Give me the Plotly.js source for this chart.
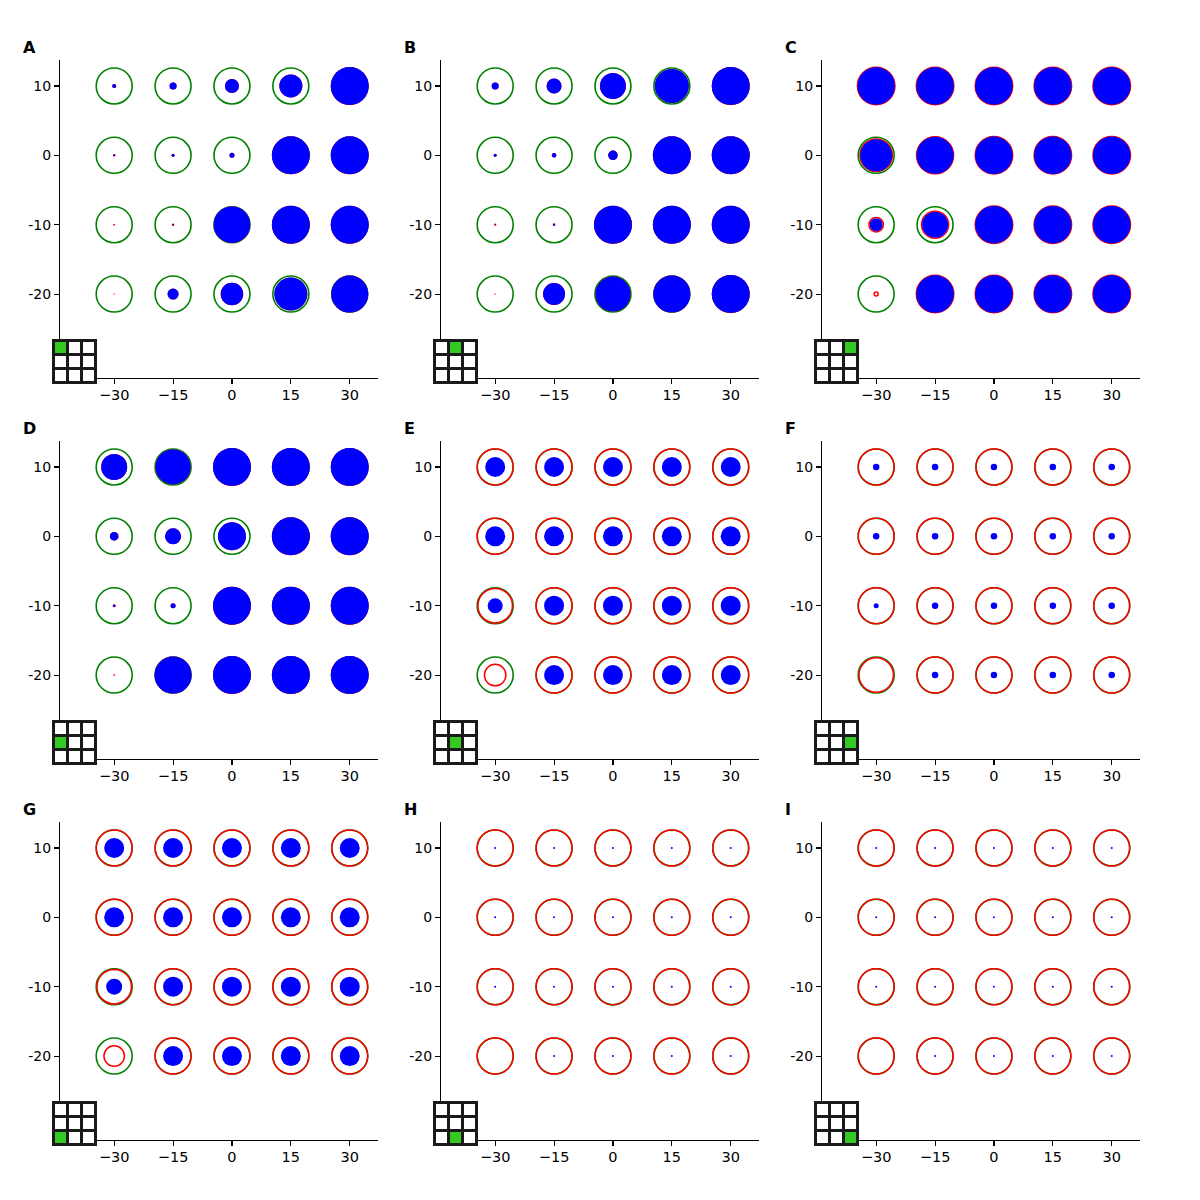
<!DOCTYPE html>
<html>
<head>
<meta charset="utf-8">
<script src="https://cdn.plot.ly/plotly-3.0.1.min.js"></script>
<style>
  html, body { margin: 0; padding: 0; background: #ffffff; }
  #chart { width: 1200px; height: 1200px; }
</style>
</head>
<body>
<div id="chart"></div>
<script>
// ---- Data ----
// Grid positions (5 columns x 4 rows), row order: y = 10, 0, -10, -20
const xPositions = [-30, -15, 0, 15, 30];
const yPositions = [10, 0, -10, -20];

const xTickVals = [-30, -15, 0, 15, 30];
const xTickText = ['\u221230', '\u221215', '0', '15', '30'];
const yTickVals = [10, 0, -10, -20];
const yTickText = ['10', '0', '-10', '-20'];

const panelLabels = ['A', 'B', 'C', 'D', 'E', 'F', 'G', 'H', 'I'];

// Blue filled disc diameters (px), per panel, rows y=10,0,-10,-20
const blueA = [4, 7, 14, 23, 38,   2, 3, 5, 38, 38,   0.8, 1.5, 36.5, 38, 38,   0, 11, 22.5, 33, 37];
const blueB = [7, 15, 26, 34, 38,  3, 4.5, 9.5, 38, 38,  1.2, 2, 38, 38, 38,   0, 22, 35, 37, 38];
const blueC = [37.5, 37.5, 37.5, 37.5, 37.5,  32, 37, 37.5, 37.5, 37.5,  13, 26, 37.5, 37.5, 37.5,  0, 37.5, 37.5, 37.5, 37.5];
const blueD = [26, 35, 38, 38, 38,  8.5, 16, 28, 38, 38,  2.5, 5, 38, 38, 38,  0, 37, 38, 38, 38];
const blueE = [20, 20, 20, 20, 20,  20, 20, 20, 20, 20,  15, 20, 20, 20, 20,  0, 20, 20, 20, 20];
const blueF = [6.5, 6.5, 6.5, 6.5, 6.5,  6.5, 6.5, 6.5, 6.5, 6.5,  5, 6.5, 6.5, 6.5, 6.5,  0, 6.5, 6.5, 6.5, 6.5];
const blueG = [20, 20, 20, 20, 20,  20, 20, 20, 20, 20,  16, 20, 20, 20, 20,  0, 20, 20, 20, 20];
const blueH = [2, 2, 2, 2, 2,  2, 2, 2, 2, 2,  2, 2, 2, 2, 2,  0, 2, 2, 2, 2];
const blueI = [2, 2, 2, 2, 2,  2, 2, 2, 2, 2,  2, 2, 2, 2, 2,  0, 2, 2, 2, 2];

// Red ring diameters (px)
const redA = [2.5, 5.5, 12.5, 21.5, 36.5,  1, 1.5, 3.5, 36.5, 36.5,  0.6, 1, 35, 36.5, 36.5,  0.3, 9.5, 21, 31.5, 35.5];
const redB = [5.5, 13.5, 24.5, 32.5, 36.5,  1.5, 3, 8, 36.5, 36.5,  0.8, 1.2, 36.5, 36.5, 36.5,  0.3, 20.5, 33.5, 35.5, 36.5];
const redC = [37.5, 37.5, 37.5, 37.5, 37.5,  32.5, 37, 37.5, 37.5, 37.5,  14.5, 27, 37.5, 37.5, 37.5,  4, 37.5, 37.5, 37.5, 37.5];
const redD = [24.5, 33.5, 36.5, 36.5, 36.5,  7, 14.5, 26.5, 36.5, 36.5,  1.5, 3.5, 36.5, 36.5, 36.5,  0.5, 35.5, 36.5, 36.5, 36.5];
const redE = [36, 36, 36, 36, 36,  36, 36, 36, 36, 36,  34.5, 36, 36, 36, 36,  21.5, 36, 36, 36, 36];
const redF = [36, 36, 36, 36, 36,  36, 36, 36, 36, 36,  36, 36, 36, 36, 36,  34.5, 36, 36, 36, 36];
const redG = [36, 36, 36, 36, 36,  36, 36, 36, 36, 36,  34.5, 36, 36, 36, 36,  20.5, 36, 36, 36, 36];
const redH = [36, 36, 36, 36, 36,  36, 36, 36, 36, 36,  36, 36, 36, 36, 36,  36, 36, 36, 36, 36];
const redI = [36, 36, 36, 36, 36,  36, 36, 36, 36, 36,  36, 36, 36, 36, 36,  36, 36, 36, 36, 36];

// Green reference ring diameter (px), same at every grid point
const greenRing = [36, 36, 36, 36, 36,  36, 36, 36, 36, 36,  36, 36, 36, 36, 36,  36, 36, 36, 36, 36];

const blueSets = [blueA, blueB, blueC, blueD, blueE, blueF, blueG, blueH, blueI];
const redSets = [redA, redB, redC, redD, redE, redF, redG, redH, redI];

// ---- Build ----
const W = 1200, H = 1200;
const colLeft = [60, 441, 822];
const rowTop = [60, 441, 822];
const axSize = 318;

const gx = [], gy = [];
yPositions.forEach(function (yv) { xPositions.forEach(function (xv) { gx.push(xv); gy.push(yv); }); });

const traces = [];
const layout = {
  width: W, height: H,
  margin: {l: 0, r: 0, t: 0, b: 0},
  paper_bgcolor: '#ffffff', plot_bgcolor: 'rgba(0,0,0,0)',
  showlegend: false,
  font: {family: 'DejaVu Sans', size: 14, color: '#000000'},
  shapes: [], annotations: []
};

const px = function (v) { return v / W; };
const py = function (v) { return 1 - v / H; };

for (let i = 0; i < 9; i++) {
  const r = Math.floor(i / 3), c = i % 3;
  const sfx = i === 0 ? '' : String(i + 1);
  const xa = 'x' + sfx, ya = 'y' + sfx;
  const L = colLeft[c], T = rowTop[r], B = T + axSize;

  layout['xaxis' + sfx] = {
    domain: [px(L), px(L + axSize)],
    range: [-43.8, 37.2],
    anchor: ya,
    tickvals: xTickVals, ticktext: xTickText,
    showline: true, linecolor: '#000000', linewidth: 1.1,
    ticks: 'outside', ticklen: 5, tickwidth: 1.1, tickcolor: '#000000',
    ticklabelstandoff: -2,
    showgrid: false, zeroline: false,
    tickfont: {family: 'DejaVu Sans', size: 14.5, color: '#000000'},
    fixedrange: true
  };
  layout['yaxis' + sfx] = {
    domain: [py(B), py(T)],
    range: [-32.1, 13.74],
    anchor: xa,
    tickvals: yTickVals, ticktext: yTickText,
    showline: true, linecolor: '#000000', linewidth: 1.1,
    ticks: 'outside', ticklen: 5, tickwidth: 1.1, tickcolor: '#000000',
    showgrid: false, zeroline: false,
    tickfont: {family: 'DejaVu Sans', size: 14, color: '#000000'},
    fixedrange: true
  };

  traces.push({
    type: 'scatter', mode: 'markers', x: gx, y: gy, xaxis: xa, yaxis: ya,
    marker: {symbol: 'circle-open', size: greenRing, color: '#008000', opacity: 1, line: {width: 1.6, color: '#008000'}},
    hoverinfo: 'skip', cliponaxis: false
  });
  traces.push({
    type: 'scatter', mode: 'markers', x: gx, y: gy, xaxis: xa, yaxis: ya,
    marker: {symbol: 'circle-open', size: redSets[i], color: '#ff0000', opacity: 1, line: {width: 1.5, color: '#ff0000'}},
    hoverinfo: 'skip', cliponaxis: false
  });
  traces.push({
    type: 'scatter', mode: 'markers', x: gx, y: gy, xaxis: xa, yaxis: ya,
    marker: {symbol: 'circle', size: blueSets[i], color: '#0000ff', opacity: 1, line: {width: 0}},
    hoverinfo: 'skip', cliponaxis: false
  });

  // panel label
  layout.annotations.push({
    xref: 'paper', yref: 'paper', x: px(L - 39), y: py(T - 13),
    xanchor: 'left', yanchor: 'middle', showarrow: false,
    text: '<b>' + panelLabels[i] + '</b>',
    font: {family: 'DejaVu Sans', size: 16, color: '#000000'}
  });

  // inset 3x3 position indicator
  const bx = L - 8, by = B - 39; // top-left of 45px box
  layout.shapes.push({type: 'rect', xref: 'paper', yref: 'paper', layer: 'above',
    x0: px(bx), x1: px(bx + 45), y0: py(by + 45), y1: py(by),
    fillcolor: '#ffffff', line: {width: 0}});
  layout.shapes.push({type: 'rect', xref: 'paper', yref: 'paper', layer: 'above',
    x0: px(bx + 3 + 14 * c), x1: px(bx + 14 + 14 * c),
    y0: py(by + 14 + 14 * r), y1: py(by + 3 + 14 * r),
    fillcolor: '#33c822', line: {width: 0}});
  for (let k = 0; k < 4; k++) {
    const off = 1.5 + 14 * k;
    layout.shapes.push({type: 'line', xref: 'paper', yref: 'paper', layer: 'above',
      x0: px(bx + off), x1: px(bx + off), y0: py(by), y1: py(by + 45),
      line: {color: '#1a1a1a', width: 3}});
    layout.shapes.push({type: 'line', xref: 'paper', yref: 'paper', layer: 'above',
      x0: px(bx), x1: px(bx + 45), y0: py(by + off), y1: py(by + off),
      line: {color: '#1a1a1a', width: 3}});
  }
}

Plotly.newPlot('chart', traces, layout, {staticPlot: true, displayModeBar: false});
</script>
</body>
</html>
